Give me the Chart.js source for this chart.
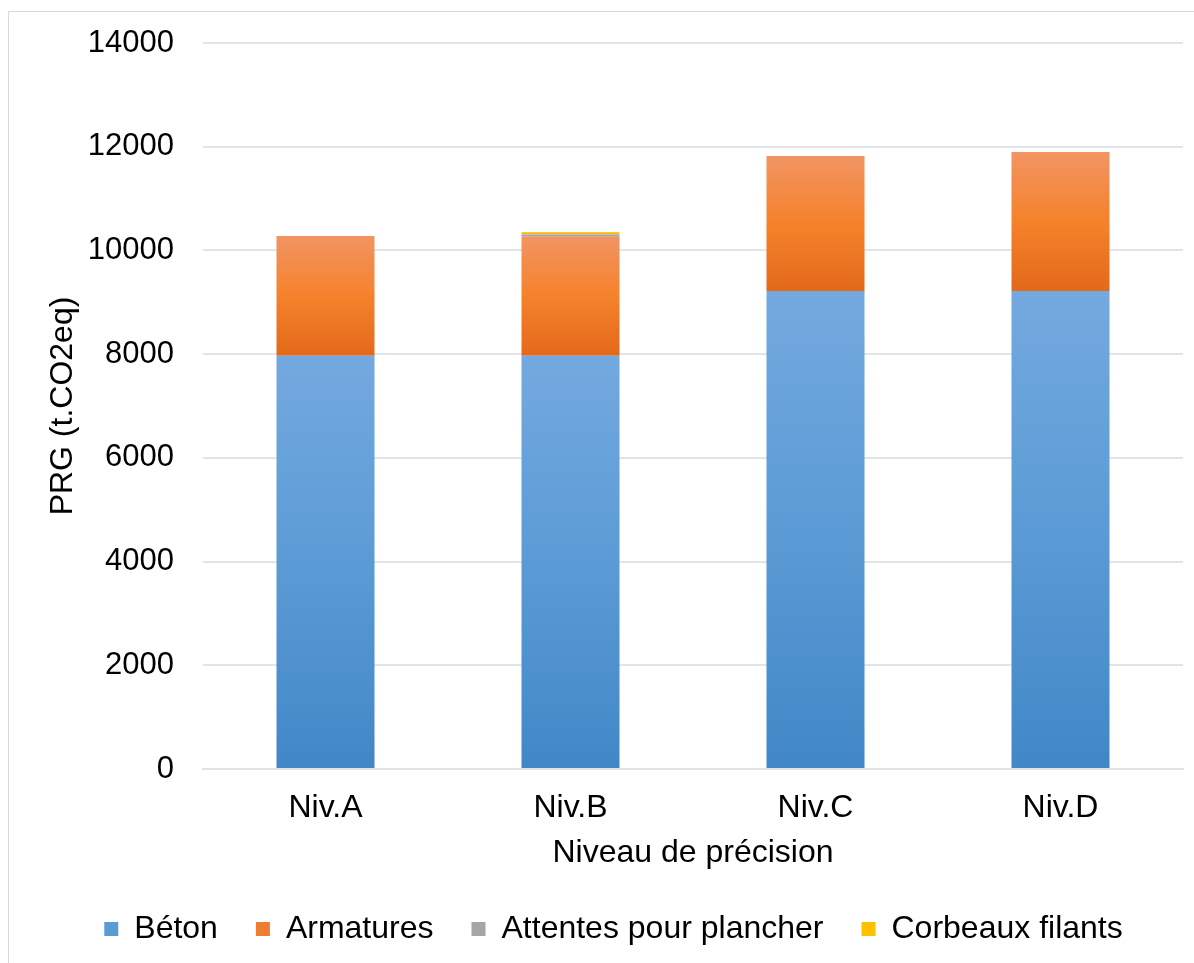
<!DOCTYPE html>
<html>
<head>
<meta charset="utf-8">
<script src="https://cdn.jsdelivr.net/npm/chart.js@4"></script>
<style>
  html, body { margin: 0; padding: 0; background: #fff; overflow: hidden; }
  #wrap { position: relative; width: 1194px; height: 963px; }
  #frame { position: absolute; left: 8px; top: 11px; width: 1200px; height: 970px; border: 1px solid #d9d9d9; box-sizing: border-box; }
  canvas { position: absolute; left: 0; top: 0; }
</style>
</head>
<body>
<div id="wrap">
  <div id="frame"></div>
  <canvas id="chart" width="1194" height="963"></canvas>
</div>
<script>
// niveaux de precision
const categories = ['Niv.A', 'Niv.B', 'Niv.C', 'Niv.D']

// PRG en t.CO2eq par poste
const beton = [7970, 7970, 9220, 9220]
const armatures = [2310, 2300, 2600, 2680]
const attentes = [0, 40, 0, 0]
const corbeaux = [0, 45, 0, 0]

const yTicks = { min: 0, max: 14000, step: 2000 }

// degrades facon Excel : clair en haut, fonce en bas
const palettes = [
  { top: '#73a9df', mid: '#5b9bd5', bottom: '#4187c7', solid: '#5b9bd5' },
  { top: '#f29463', mid: '#f5822b', bottom: '#e3691a', solid: '#ed7d31' },
  { top: '#b8b8b8', mid: '#a5a5a5', bottom: '#8e8e8e', solid: '#a5a5a5' },
  { top: '#ffd24a', mid: '#ffc000', bottom: '#eab300', solid: '#ffc000' },
]

const seriesList = [beton, armatures, attentes, corbeaux]

function segmentFill(dsIndex) {
  return (ctx) => {
    const pal = palettes[dsIndex]
    const chart = ctx.chart
    if (ctx.type !== 'data' || !chart.chartArea || !chart.scales.y) return pal.solid
    let start = 0
    for (let k = 0; k < dsIndex; k++) start += seriesList[k][ctx.dataIndex]
    const end = start + seriesList[dsIndex][ctx.dataIndex]
    const y0 = chart.scales.y.getPixelForValue(start)
    const y1 = chart.scales.y.getPixelForValue(end)
    if (!isFinite(y0) || !isFinite(y1) || y0 === y1) return pal.solid
    const g = chart.ctx.createLinearGradient(0, y1, 0, y0)
    g.addColorStop(0, pal.top)
    g.addColorStop(0.5, pal.mid)
    g.addColorStop(1, pal.bottom)
    return g
  }
}

const names = ['Béton', 'Armatures', 'Attentes pour plancher', 'Corbeaux filants']
const family = '"Liberation Sans", Arial, sans-serif'
const font = { family: family, size: 32 }
// lineHeight reduit : le padding vertical de l'axe y depend de la hauteur des libelles
const tickFont = { family: family, size: 31, lineHeight: 0.9 }

new Chart(document.getElementById('chart'), {
  type: 'bar',
  data: {
    labels: categories,
    datasets: seriesList.map((arr, i) => ({
      label: names[i],
      data: arr,
      backgroundColor: segmentFill(i),
      borderWidth: 0,
      categoryPercentage: 1,
      barPercentage: 0.4,
    })),
  },
  options: {
    responsive: false,
    animation: false,
    layout: { padding: { left: 44, right: 11, top: 43, bottom: 8 } },
    plugins: {
      tooltip: { enabled: false },
      legend: {
        position: 'bottom',
        labels: {
          font: font,
          color: '#000',
          boxWidth: 14,
          boxHeight: 14,
          padding: 38,
          generateLabels: (chart) => chart.data.datasets.map((ds, i) => ({
            text: ds.label,
            fillStyle: palettes[i].solid,
            strokeStyle: palettes[i].solid,
            lineWidth: 0,
            hidden: false,
            datasetIndex: i,
          })),
        },
      },
    },
    scales: {
      x: {
        stacked: true,
        grid: { display: false, drawTicks: false },
        border: { display: true, color: '#dfe2e7', width: 2 },
        ticks: { font: font, color: '#000', padding: 20 },
        title: { display: true, text: 'Niveau de précision', font: { ...font, lineHeight: 1 }, color: '#000', padding: { top: 0, bottom: 6 } },
        afterFit: (s) => { s.height = 106 },
      },
      y: {
        stacked: true,
        min: yTicks.min,
        max: yTicks.max,
        grid: { color: '#e1e4e9', lineWidth: 2, drawTicks: false },
        border: { display: false },
        ticks: { stepSize: yTicks.step, font: tickFont, color: '#000', padding: 29, callback: (v) => String(v) },
        title: { display: true, text: 'PRG (t.CO2eq)', font: font, color: '#000', padding: 0 },
        afterFit: (s) => { s.width = 159 },
      },
    },
  },
})
</script>
</body>
</html>
